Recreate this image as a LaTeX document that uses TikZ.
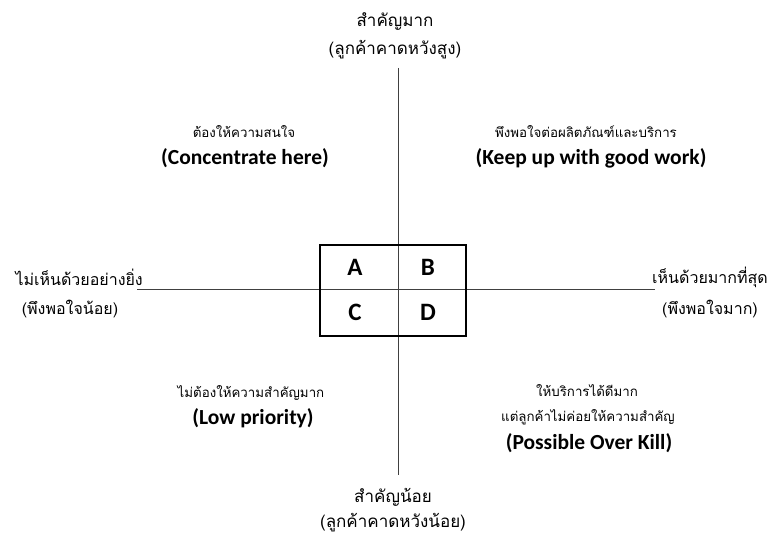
\documentclass[tikz,border=0pt]{standalone}
\usepackage{fontspec}
\setmainfont{Carlito}
\newfontfamily\thaifont[Script=Thai]{Loma}
\begin{document}
\begin{tikzpicture}[x=1pt,y=-1pt,
  axis/.style={draw=black!75,line width=0.9pt},
  cell/.style={draw=black,line width=1.2pt},
  letter/.style={font=\fontsize{25}{25}\selectfont\bfseries},
  axisth/.style={font=\thaifont\fontsize{17}{17}\selectfont,inner sep=0pt},
  sideth/.style={font=\thaifont\fontsize{16}{16}\selectfont,inner sep=0pt},
  quadth/.style={font=\thaifont\fontsize{13.3}{13.3}\selectfont,inner sep=0pt},
  quaden/.style={font=\fontsize{21.5}{21.5}\selectfont\bfseries,inner sep=0pt}]
\useasboundingbox (0,0) rectangle (771,537);

% axes
\coordinate (vtop) at (398,68);
\coordinate (vbot) at (398,475);
\coordinate (hleft) at (137,289);
\coordinate (hright) at (655,289);
\draw[axis] (vtop) -- (vbot);
\draw[axis] (hleft) -- (hright);

% central grid of quadrants
\draw[cell] (320,245) rectangle (466,336);
\node[letter] (A) at (355,267) {A};
\node[letter] (B) at (428,267) {B};
\node[letter] (C) at (355,312) {C};
\node[letter] (D) at (428,312) {D};

% vertical axis labels
\node[axisth] (top1) at (395,22) {สำคัญมาก};
\node[axisth] (top2) at (395,50) {(ลูกค้าคาดหวังสูง)};
\node[axisth] (bot1) at (393,497) {สำคัญน้อย};
\node[axisth] (bot2) at (393,523) {(ลูกค้าคาดหวังน้อย)};

% horizontal axis labels
\node[sideth,anchor=east] (left1) at (143,277) {ไม่เห็นด้วยอย่างยิ่ง};
\node[sideth] (left2) at (70,309) {(พึงพอใจน้อย)};
\node[sideth,anchor=west] (right1) at (652,277) {เห็นด้วยมากที่สุด};
\node[sideth] (right2) at (710,309) {(พึงพอใจมาก)};

% quadrant descriptions
\node[quadth] (qa1) at (244,132) {ต้องให้ความสนใจ};
\node[quaden] (qa2) at (245,158) {(Concentrate here)};
\node[quadth] (qb1) at (586,132) {พึงพอใจต่อผลิตภัณฑ์และบริการ};
\node[quaden] (qb2) at (591,158) {(Keep up with good work)};
\node[quadth] (qc1) at (251,393) {ไม่ต้องให้ความสำคัญมาก};
\node[quaden] (qc2) at (253,418) {(Low priority)};
\node[quadth] (qd1) at (587,391) {ให้บริการได้ดีมาก};
\node[quadth] (qd2) at (588,417) {แต่ลูกค้าไม่ค่อยให้ความสำคัญ};
\node[quaden] (qd3) at (589,443) {(Possible Over Kill)};
\end{tikzpicture}
\end{document}
